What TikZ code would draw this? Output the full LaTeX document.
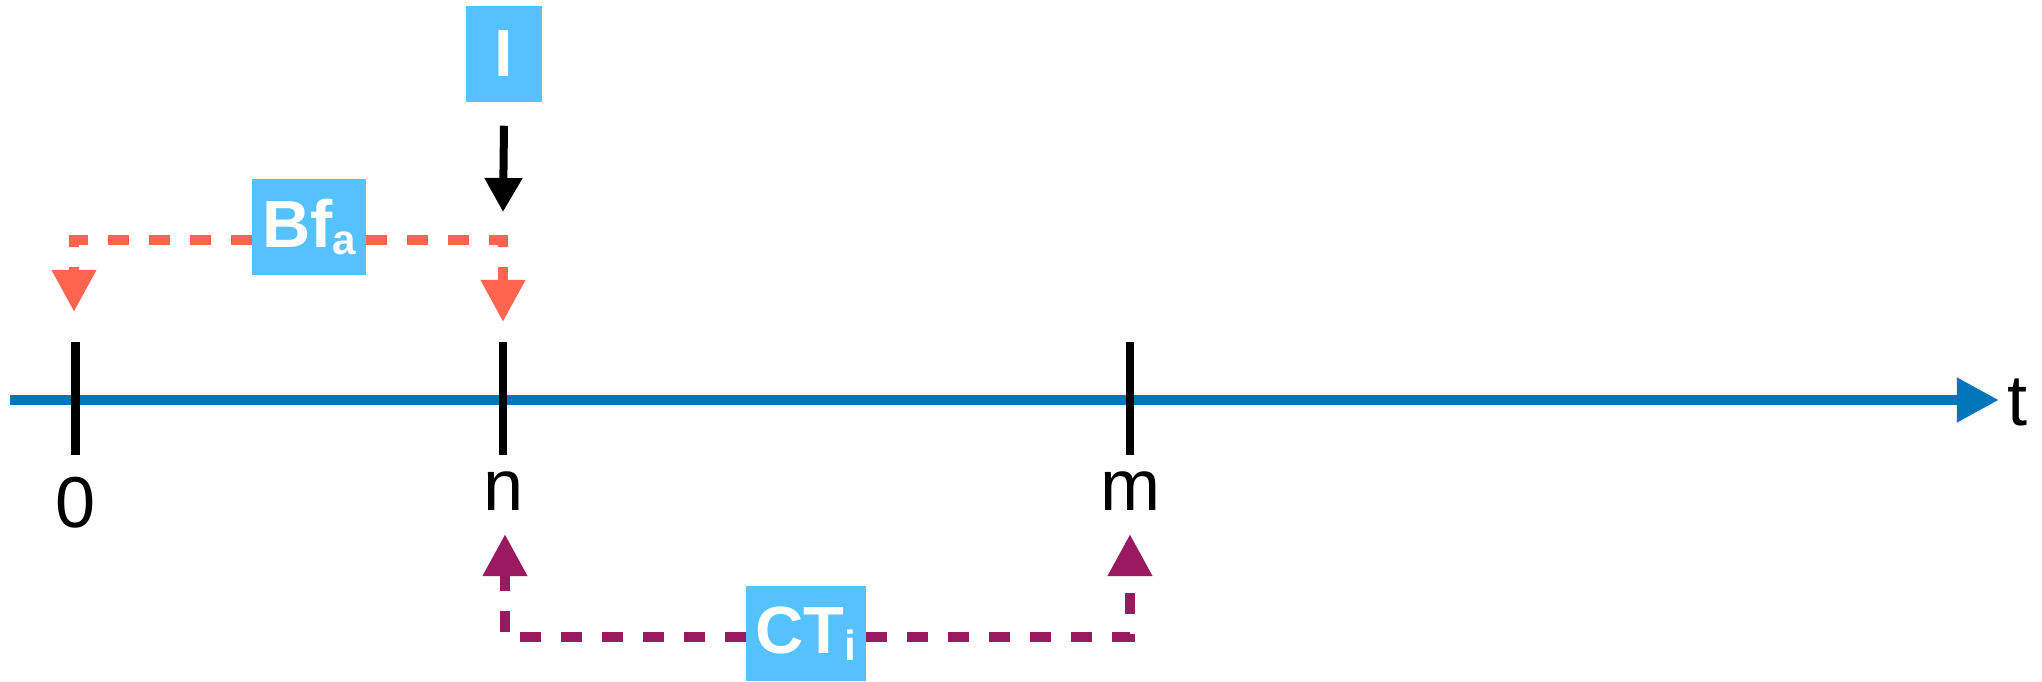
\documentclass[tikz,border=0pt]{standalone}
\usepackage{fontspec}
\setmainfont{Liberation Sans}
\newfontfamily\boxfont{Liberation Sans Bold}
\usetikzlibrary{arrows.meta}
\definecolor{axisblue}{HTML}{0076BA}
\definecolor{boxblue}{HTML}{56C1FF}
\definecolor{tomato}{HTML}{FF644E}
\definecolor{berry}{HTML}{991A5E}
\tikzset{
  lbox/.style={fill=boxblue, inner sep=0pt, minimum height=0.95cm, text=white,
    font=\boxfont\fontsize{19pt}{19pt}\selectfont},
  ticklabel/.style={inner sep=0pt, font=\fontsize{20.5pt}{21pt}\selectfont},
  tickmark/.style={line width=0.08cm, black},
  axisline/.style={line width=0.1cm, axisblue, -{Triangle[length=0.42cm, width=0.42cm]}},
  odash/.style={line width=0.1cm, tomato, dash pattern=on 0.21cm off 0.2cm,
    -{Triangle[length=0.42cm, width=0.42cm]}},
  pdash/.style={line width=0.1cm, berry, dash pattern=on 0.21cm off 0.2cm,
    -{Triangle[length=0.42cm, width=0.42cm]}},
  karrow/.style={line width=0.08cm, black, -{Triangle[length=0.34cm, width=0.36cm]}},
}
\newcommand{\subtxt}[1]{\raisebox{-0.1em}{\fontsize{12pt}{12pt}\selectfont #1}}
\begin{document}
\begin{tikzpicture}[x=0.01cm, y=-0.01cm]
\useasboundingbox (0,0) rectangle (2042,682);
% axis
\coordinate (a0) at (10,400);
\coordinate (a1) at (1999,400);
\draw[axisline] (a0) -- (a1);
\node[ticklabel] (t) at (2017,402) {t};
% ticks
\draw[tickmark] (75.5,342) -- (75.5,455);
\draw[tickmark] (503,342) -- (503,455);
\draw[tickmark] (1130,342) -- (1130,455);
\node[ticklabel] (l0) at (75.5,502.5) {0};
\node[ticklabel] (ln) at (504,491) {n};
\node[ticklabel] (lm) at (1131,491) {m};
% boxes
\node[lbox, minimum width=0.76cm] (I) at (504,54) {I};
\node[lbox, minimum width=1.13cm] (bfa) at (309,227) {Bf\subtxt{a}};
\node[lbox, minimum width=1.19cm] (cti) at (806,633.5) {CT\subtxt{i}};
% black arrow
\coordinate (kend) at (503,212);
\draw[karrow] ([yshift=-0.235cm]I.south) -- (kend);
% orange connector
\coordinate (oL) at (74,312);
\coordinate (oR) at (503,322);
\draw[odash] ([yshift=-0.13cm]bfa.west) -| (oL);
\draw[odash] ([yshift=-0.13cm]bfa.east) -| (oR);
% purple connector
\coordinate (pL) at (505,534);
\coordinate (pR) at (1130,534);
\draw[pdash] ([yshift=-0.035cm]cti.west) -| (pL);
\draw[pdash] ([yshift=-0.035cm]cti.east) -| (pR);
\end{tikzpicture}
\end{document}
